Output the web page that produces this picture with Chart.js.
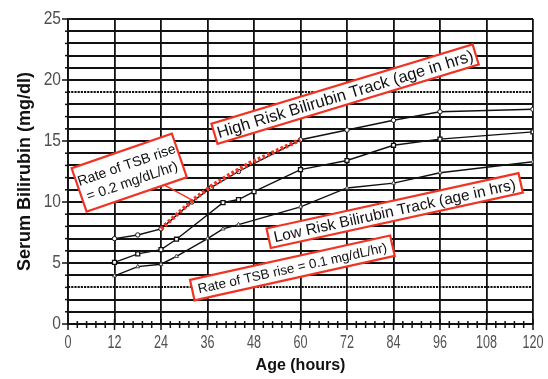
<!DOCTYPE html>
<html>
<head>
<meta charset="utf-8">
<script src="https://cdn.jsdelivr.net/npm/chart.js@4.4.1/dist/chart.umd.min.js"></script>
<style>
  html, body { margin: 0; padding: 0; background: #ffffff; }
  #wrap { width: 548px; height: 379px; }
</style>
</head>
<body>
<div id="wrap"><canvas id="chart" width="548" height="379"></canvas></div>
<script>
// Bilirubin nomogram tracks: age in hours vs serum bilirubin (mg/dl)
const highHours   = [12, 18, 24, 32, 37, 44, 60, 72, 84, 96, 120];
const highValues  = [7.0, 7.3, 7.8, 10.0, 11.2, 12.5, 15.1, 15.9, 16.7, 17.4, 17.6];

const midHours    = [12, 18, 24, 28, 40, 44, 48, 60, 72, 84, 96, 120];
const midValues   = [5.05, 5.75, 6.1, 6.95, 9.95, 10.2, 10.85, 12.65, 13.4, 14.65, 15.15, 15.75];

const lowHours    = [12, 18, 24, 28, 36, 40, 44, 60, 72, 84, 96, 120];
const lowValues   = [3.95, 4.7, 4.9, 5.55, 7.0, 7.8, 8.15, 9.6, 11.15, 11.55, 12.4, 13.3];

// rate-of-rise trace (0.2 mg/dL/hr) drawn over the upper track
const riseHours   = [24, 32, 37, 41, 47, 60];
const riseValues  = [7.8, 10.1, 11.3, 12.1, 13.2, 15.1];

// pointer from the upper callout to the rise trace
const pointerHours  = [24.2, 31.8];
const pointerValues = [11.5, 10.2];

const xTickLabels = [0, 12, 24, 36, 48, 60, 72, 84, 96, 108, 120];
const yTickLabels = [0, 5, 10, 15, 20, 25];
const dottedLevels = [3, 19];

// callouts: text lines, centre (hours, mg/dl), angle (deg)
const calloutTexts  = [
  ["Rate of TSB rise", "= 0.2 mg/dL/hr)"],
  ["High Risk Bilirubin Track (age in hrs)"],
  ["Low Risk Bilirubin Track (age in hrs)"],
  ["Rate of TSB rise = 0.1 mg/dL/hr)"]
];
const calloutHours  = [15.8, 71.5, 84.3, 57.9];
const calloutValues = [12.4, 18.85, 9.3, 4.6];
const calloutAngles = [-19, -16.9, -12.4, -12.5];

const toPoints = (xs, ys) => xs.map((x, i) => ({ x: x, y: ys[i] }));

const RED = '#f03322';
const INK = '#111111';
const SANS = "'Liberation Sans', Arial, Helvetica, sans-serif";

const calloutStyle = [
  { w: 106, h: 46, font: 14, lh: 17 },
  { w: 273, h: 21, font: 16.5, lh: 18 },
  { w: 258, h: 20, font: 15.5, lh: 17 },
  { w: 205, h: 21, font: 13.4, lh: 16 }
];

// draws a label squeezed horizontally (condensed face look)
function condensedText(ctx, text, x, y, squeeze, align) {
  ctx.save();
  ctx.translate(x, y);
  ctx.scale(squeeze, 1);
  ctx.textAlign = align;
  ctx.fillText(text, 0, 0);
  ctx.restore();
}

const extras = {
  id: 'nomogramExtras',
  beforeDatasetsDraw(chart) {
    const { ctx, chartArea: a, scales: { x, y } } = chart;
    ctx.save();
    // dotted reference levels
    ctx.strokeStyle = INK;
    ctx.lineWidth = 2.2;
    ctx.setLineDash([2.2, 1]);
    dottedLevels.forEach(v => {
      const py = Math.round(y.getPixelForValue(v));
      ctx.beginPath();
      ctx.moveTo(a.left, py);
      ctx.lineTo(a.right, py);
      ctx.stroke();
    });
    ctx.setLineDash([]);
    // y-axis tick marks
    ctx.lineWidth = 1.5;
    for (let v = 0; v <= 25; v++) {
      const py = y.getPixelForValue(v);
      const len = v % 5 === 0 ? 6 : 3;
      ctx.beginPath();
      ctx.moveTo(a.left - len, py);
      ctx.lineTo(a.left, py);
      ctx.stroke();
    }
    // x-axis minor and major tick marks
    for (let i = 0; i <= 50; i++) {
      const px = x.getPixelForValue(i * 2.4);
      const major = i % 5 === 0;
      ctx.beginPath();
      ctx.moveTo(px, a.bottom - (major ? 5 : 3));
      ctx.lineTo(px, a.bottom + (major ? 6 : 4));
      ctx.stroke();
    }
    ctx.restore();
  },
  afterDatasetsDraw(chart) {
    const { ctx, chartArea: a, scales: { x, y } } = chart;
    // tick labels
    ctx.save();
    ctx.fillStyle = '#505050';
    ctx.textBaseline = 'middle';
    ctx.font = '18px ' + SANS;
    xTickLabels.forEach(v => condensedText(ctx, String(v), x.getPixelForValue(v), a.bottom + 19, 0.7, 'center'));
    ctx.font = '19px ' + SANS;
    yTickLabels.forEach(v => condensedText(ctx, String(v), a.left - 7, y.getPixelForValue(v), 0.82, 'right'));
    ctx.restore();
    // callouts
    calloutTexts.forEach((lines, i) => {
      const s = calloutStyle[i];
      const cx = x.getPixelForValue(calloutHours[i]);
      const cy = y.getPixelForValue(calloutValues[i]);
      ctx.save();
      ctx.translate(cx, cy);
      ctx.rotate(calloutAngles[i] * Math.PI / 180);
      ctx.fillStyle = '#ffffff';
      ctx.fillRect(-s.w / 2, -s.h / 2, s.w, s.h);
      ctx.strokeStyle = RED;
      ctx.lineWidth = 2.2;
      ctx.strokeRect(-s.w / 2, -s.h / 2, s.w, s.h);
      ctx.fillStyle = INK;
      ctx.font = s.font + 'px ' + SANS;
      ctx.textAlign = 'center';
      ctx.textBaseline = 'middle';
      const top = -(lines.length - 1) * s.lh / 2;
      lines.forEach((t, k) => ctx.fillText(t, 0, top + k * s.lh + 1));
      ctx.restore();
    });
  }
};

new Chart(document.getElementById('chart'), {
  type: 'line',
  data: {
    datasets: [
      {
        label: 'Rate of rise 0.2',
        data: toPoints(riseHours, riseValues),
        borderColor: RED,
        borderWidth: 4.2,
        borderDash: [2.8, 2.2],
        borderCapStyle: 'butt',
        pointRadius: 0,
        tension: 0,
        fill: false
      },
      {
        label: 'Pointer',
        data: toPoints(pointerHours, pointerValues),
        borderColor: RED,
        borderWidth: 1.4,
        pointRadius: 0,
        fill: false
      },
      {
        label: 'High track',
        data: toPoints(highHours, highValues),
        borderColor: INK,
        borderWidth: 1.4,
        pointStyle: 'circle',
        pointRadius: 2.2,
        pointBackgroundColor: '#ffffff',
        pointBorderColor: INK,
        pointBorderWidth: 1,
        tension: 0,
        fill: false
      },
      {
        label: 'Middle track',
        data: toPoints(midHours, midValues),
        borderColor: INK,
        borderWidth: 1.4,
        pointStyle: 'rect',
        pointRadius: 2.8,
        pointBackgroundColor: '#ffffff',
        pointBorderColor: INK,
        pointBorderWidth: 1.3,
        tension: 0,
        fill: false
      },
      {
        label: 'Low track',
        data: toPoints(lowHours, lowValues),
        borderColor: INK,
        borderWidth: 1.4,
        pointStyle: 'triangle',
        pointRadius: 2.3,
        pointBackgroundColor: '#ffffff',
        pointBorderColor: '#444444',
        pointBorderWidth: 1,
        tension: 0,
        fill: false
      }
    ]
  },
  options: {
    responsive: false,
    devicePixelRatio: 1,
    animation: false,
    events: [],
    layout: { padding: { top: 19, right: 15, left: 0, bottom: 0 } },
    plugins: {
      legend: { display: false },
      tooltip: { enabled: false },
      title: { display: false }
    },
    scales: {
      x: {
        type: 'linear',
        min: 0,
        max: 120,
        afterFit(scale) { scale.height = 55; },
        afterBuildTicks(scale) { scale.ticks = xTickLabels.map(v => ({ value: v })); },
        ticks: { display: false, autoSkip: false },
        grid: { color: INK, lineWidth: 1.8, drawTicks: false },
        border: { color: INK, width: 1.8 },
        title: {
          display: true,
          text: 'Age (hours)',
          color: INK,
          font: { family: SANS, size: 16, weight: 'bold' },
          padding: { top: 0, bottom: 4 }
        }
      },
      y: {
        type: 'linear',
        min: 0,
        max: 25,
        afterFit(scale) { scale.width = 68; },
        afterBuildTicks(scale) {
          const t = [];
          for (let v = 0; v <= 25; v++) t.push({ value: v });
          scale.ticks = t;
        },
        ticks: { display: false, autoSkip: false },
        grid: {
          color: c => (dottedLevels.includes(c.tick && c.tick.value) ? 'rgba(0,0,0,0)' : INK),
          lineWidth: 1.9,
          drawTicks: false
        },
        border: { color: INK, width: 1.8 },
        title: {
          display: true,
          text: 'Serum Bilirubin (mg/dl)',
          color: INK,
          font: { family: SANS, size: 18, weight: 'bold' },
          padding: { top: 14, bottom: 0 }
        }
      }
    }
  },
  plugins: [extras]
});
</script>
</body>
</html>
